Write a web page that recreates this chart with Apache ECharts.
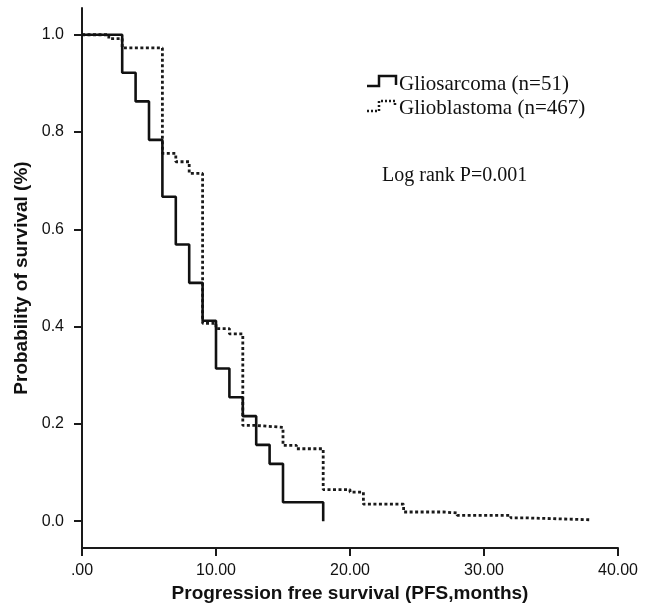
<!DOCTYPE html>
<html>
<head>
<meta charset="utf-8">
<script src="https://cdn.jsdelivr.net/npm/echarts@6/dist/echarts.min.js"></script>
<style>
  html, body { margin: 0; padding: 0; background: #fff; }
  #chart { width: 648px; height: 613px; }
</style>
</head>
<body>
<div id="chart"></div>
<script>
// Kaplan-Meier steps (months, survival probability)
const gsTime = [0, 3, 4, 5, 6, 7, 8, 9, 10, 11, 12, 13, 14, 15, 18];
const gsSurv = [1.0, 0.922, 0.863, 0.784, 0.667, 0.569, 0.490, 0.412, 0.314, 0.255, 0.216, 0.157, 0.118, 0.039, 0.0];

const gbTime = [0, 2, 3, 6, 7, 8, 9, 10, 11, 12, 13, 15, 16, 18, 20, 21, 24, 27, 28, 32, 33, 38];
const gbSurv = [1.0, 0.992, 0.973, 0.756, 0.739, 0.715, 0.407, 0.396, 0.385, 0.197, 0.193, 0.156, 0.149, 0.065, 0.060, 0.035, 0.019, 0.017, 0.012, 0.007, 0.003, 0.003];

const seriesNames = ['Gliosarcoma (n=51)', 'Glioblastoma (n=467)'];
const xTicks = [0, 10, 20, 30, 40];
const xTickLabels = ['.00', '10.00', '20.00', '30.00', '40.00'];
const yTicks = [0, 0.2, 0.4, 0.6, 0.8, 1.0];
const yTickLabels = ['0.0', '0.2', '0.4', '0.6', '0.8', '1.0'];
const annotation = 'Log rank P=0.001';

const chart = echarts.init(document.getElementById('chart'));

const zip = (xs, ys) => xs.map((x, i) => [x, ys[i]]);
const axisColor = '#1a1a1a';
const sans = '"Liberation Sans", Arial, sans-serif';
const serif = '"Liberation Serif", "Times New Roman", serif';

const option = {
  animation: false,
  backgroundColor: '#fff',
  grid: { left: 82, right: 30, top: 8, bottom: 65 },
  xAxis: {
    type: 'value',
    min: 0,
    max: 40,
    interval: 10,
    splitLine: { show: false },
    axisLine: { onZero: false, lineStyle: { color: axisColor, width: 2 } },
    axisTick: { show: true, length: 8, lineStyle: { color: axisColor, width: 2 } },
    axisLabel: {
      margin: 15,
      color: '#111',
      fontFamily: sans,
      fontSize: 16,
      formatter: v => xTickLabels[xTicks.indexOf(v)]
    },
    name: 'Progression free survival (PFS,months)',
    nameLocation: 'middle',
    nameGap: 35,
    nameTextStyle: { fontFamily: sans, fontWeight: 'bold', fontSize: 19, color: '#111' }
  },
  yAxis: {
    type: 'value',
    min: -0.055,
    max: 1.055,
    splitLine: { show: false },
    axisLine: { show: true, lineStyle: { color: axisColor, width: 2 } },
    axisTick: { show: true, length: 8, customValues: yTicks, lineStyle: { color: axisColor, width: 2 } },
    axisLabel: {
      margin: 18,
      color: '#111',
      fontFamily: sans,
      fontSize: 16,
      customValues: yTicks,
      formatter: v => yTickLabels[yTicks.findIndex(t => Math.abs(t - v) < 1e-6)]
    },
    name: 'Probability of survival (%)',
    nameLocation: 'middle',
    nameGap: 46,
    nameTextStyle: { fontFamily: sans, fontWeight: 'bold', fontSize: 19, color: '#111' }
  },
  series: [
    {
      name: seriesNames[1],
      type: 'line',
      step: 'end',
      showSymbol: false,
      data: zip(gbTime, gbSurv),
      lineStyle: { color: '#1a1a1a', width: 2.8, type: [3, 2.5] }
    },
    {
      name: seriesNames[0],
      type: 'line',
      step: 'end',
      showSymbol: false,
      data: zip(gsTime, gsSurv),
      lineStyle: { color: '#111', width: 2.6, type: 'solid' }
    }
  ],
  graphic: [
    {
      type: 'polyline',
      shape: { points: [[367, 86], [379, 86], [379, 76], [396, 76], [396, 85]] },
      style: { stroke: '#111', lineWidth: 2.5, fill: null }
    },
    {
      type: 'polyline',
      shape: { points: [[367, 111], [379, 111], [379, 101], [395, 101], [395, 106]] },
      style: { stroke: '#1a1a1a', lineWidth: 2.5, fill: null, lineDash: [2, 2] }
    },
    {
      type: 'text', x: 399, y: 84,
      style: { text: seriesNames[0], font: '21px ' + serif, fill: '#111', verticalAlign: 'middle' }
    },
    {
      type: 'text', x: 399, y: 108,
      style: { text: seriesNames[1], font: '21px ' + serif, fill: '#111', verticalAlign: 'middle' }
    },
    {
      type: 'text', x: 382, y: 176,
      style: { text: annotation, font: '20px ' + serif, fill: '#111', verticalAlign: 'middle' }
    }
  ]
};

chart.setOption(option);
</script>
</body>
</html>
